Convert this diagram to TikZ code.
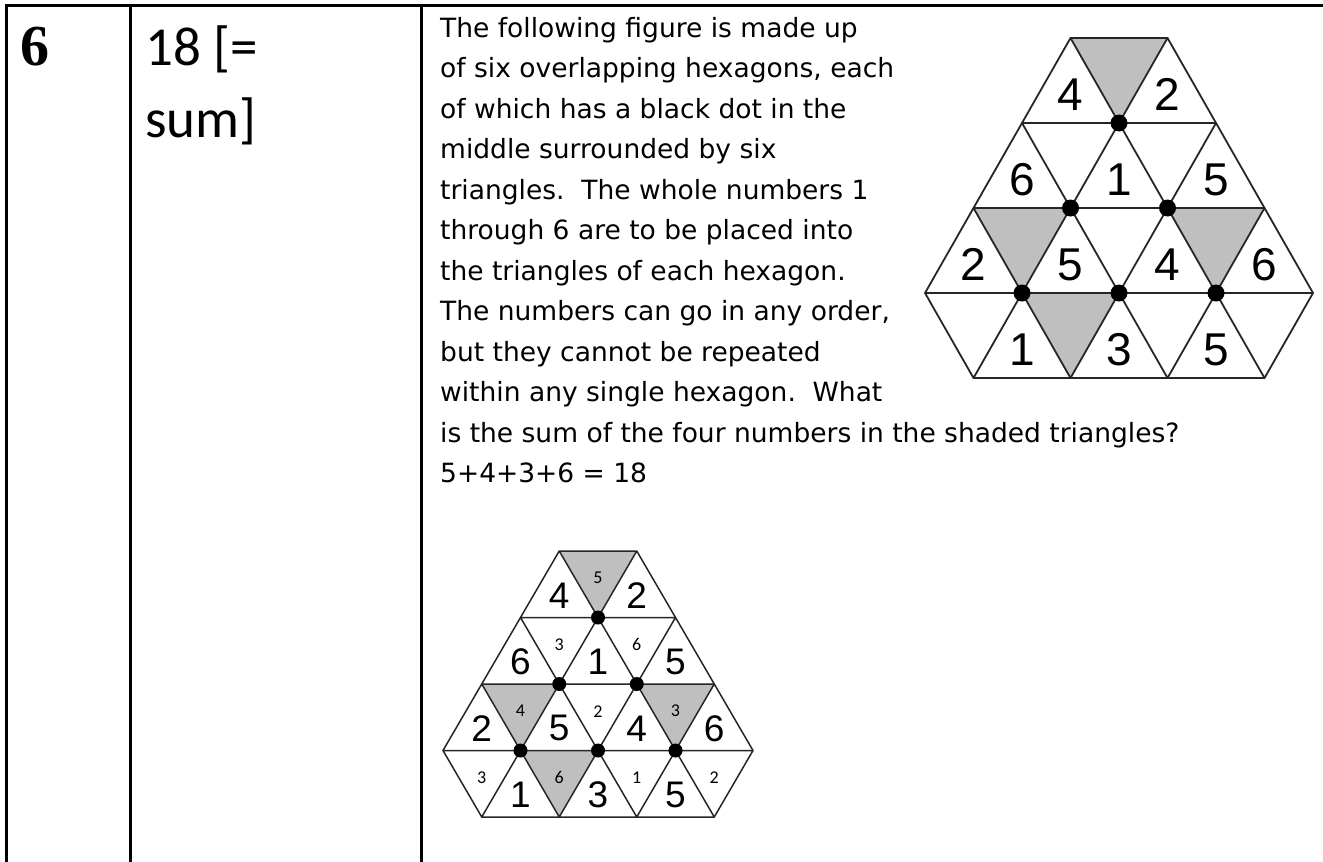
\documentclass[tikz,border=0pt]{standalone}
\usepackage{fontspec}
\newfontfamily\comicfont{DejaVu Sans}
\newfontfamily\calfont{Carlito}
\newfontfamily\arialfont{Liberation Sans}
\newfontfamily\capfont{Liberation Serif}

\begin{document}
\begin{tikzpicture}[x=1pt, y=-1pt,
    rule/.style={line width=3pt},
    grid/.style={line width=1.8pt, draw=black!85},
    shade/.style={fill=black!25},
    dot/.style={circle, fill=black, inner sep=0pt, minimum size=17pt},
    bignum/.style={font=\arialfont\fontsize{46}{46}\selectfont, inner sep=0pt},
    smallnum/.style={font=\calfont\fontsize{18}{18}\selectfont, inner sep=0pt, yshift=-5pt},
    body/.style={font=\comicfont\fontsize{26.5}{40}\selectfont, inner sep=0pt},
    answer/.style={font=\calfont\fontsize{55}{66}\selectfont, inner sep=0pt},
    qnum/.style={font=\capfont\bfseries\fontsize{58}{66}\selectfont, inner sep=0pt},
    puzzle/.pic={
        \foreach \a/\l in {2/3, 1/1, 3/1, 1.5/0}
            \fill[shade] (\a-0.5,\l+1) -- (\a+0.5,\l+1) -- (\a,\l) -- cycle;
        \draw[grid] (0.5,0) -- (3.5,0) -- (4,1) -- (2.5,4) -- (1.5,4) -- (0,1) -- cycle
            (0,1) -- (4,1) (0.5,2) -- (3.5,2) (1,3) -- (3,3)
            (0.5,0) -- (2.5,4) (1.5,0) -- (3,3) (2.5,0) -- (3.5,2)
            (3.5,0) -- (1.5,4) (2.5,0) -- (1,3) (1.5,0) -- (0.5,2);
        \foreach \u/\l [count=\i] in {2/3, 1.5/2, 2.5/2, 1/1, 2/1, 3/1}
            \node[dot] (-dot\i) at (\u,\l) {};
        \foreach \u/\l/\n [count=\i] in {1.5/3/4, 2.5/3/2, 1/2/6, 2/2/1, 3/2/5,
                0.5/1/2, 1.5/1/5, 2.5/1/4, 3.5/1/6, 1/0/1, 2/0/3, 3/0/5}
            \node[bignum] (-n\i) at (\u,\l+1/3) {\n};
    }
]
    \useasboundingbox (0,0) rectangle (1323,862);
    \draw[rule] (5,5) -- (1323,5);
    \draw[rule] (6,5) -- (6,862) (130,5) -- (130,862) (421,5) -- (421,862);

    \node[qnum, anchor=base west] (num) at (20,65) {6};
    \node[answer, anchor=base west] (ans1) at (145,65) {18 [=};
    \node[answer, anchor=base west] (ans2) at (145,137) {sum]};

    \foreach \txt [count=\i] in {The following figure is made up,
            {of six overlapping hexagons, each}, of which has a black dot in the,
            middle surrounded by six, triangles.\ \ The whole numbers 1,
            through 6 are to be placed into, the triangles of each hexagon.,
            {The numbers can go in any order,}, but they cannot be repeated,
            within any single hexagon.\ \ What,
            is the sum of the four numbers in the shaded triangles?, 5+4+3+6 = 18}
        \node[body, anchor=base west] (line\i) at (440, {37+40.5*(\i-1)}) {\txt};

    \begin{scope}[shift={(925,378)}, x=97pt, y=85pt]
        \pic (big) {puzzle};
    \end{scope}

    \begin{scope}[shift={(443,817)}, x=77.5pt, y=66.5pt,
        grid/.append style={line width=1.5pt},
        dot/.append style={minimum size=14pt},
        bignum/.append style={font=\arialfont\fontsize{37}{37}\selectfont}]
        \pic (small) {puzzle};
        \foreach \u/\l/\n [count=\i] in {2/3/5, 1.5/2/3, 2.5/2/6, 1/1/4, 2/1/2,
                3/1/3, 0.5/0/3, 1.5/0/6, 2.5/0/1, 3.5/0/2}
            \node[smallnum] (fill\i) at (\u,\l+2/3) {\n};
    \end{scope}
\end{tikzpicture}
\end{document}
